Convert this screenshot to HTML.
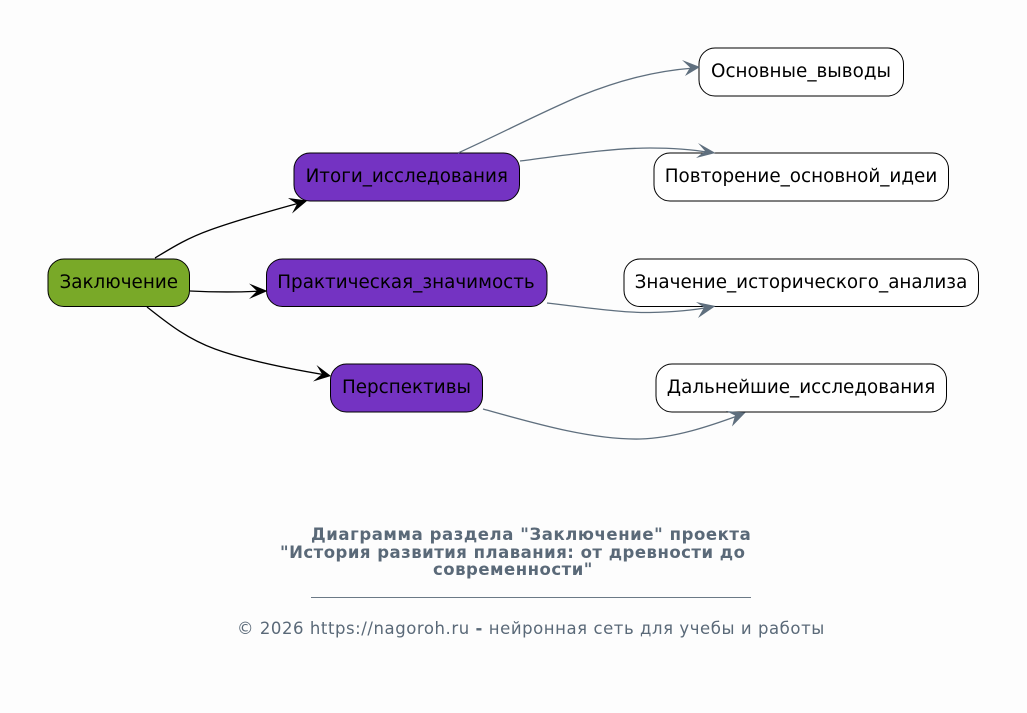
<!DOCTYPE html>
<html><head><meta charset="utf-8">
<style>
html,body{margin:0;padding:0;background:#fdfdfd;}
svg{display:block;}
.n{font-family:"DejaVu Sans",sans-serif;font-size:18.35px;fill:#000;text-anchor:middle;}
.t{font-family:"DejaVu Sans",sans-serif;font-size:16.5px;letter-spacing:0.58px;font-weight:bold;fill:#5a6978;}
.f{font-family:"DejaVu Sans",sans-serif;font-size:16.5px;letter-spacing:0.56px;fill:#5a6978;}
</style></head><body>
<svg width="1027" height="713" viewBox="0 0 1027 713" xmlns="http://www.w3.org/2000/svg">
<rect width="1027" height="713" fill="#fdfdfd"/>
<g stroke="#000" stroke-width="1">
<rect x="48" y="259" width="141.500" height="47.500" rx="16" ry="16" fill="#79a928"/>
<rect x="294" y="153" width="225.500" height="48" rx="16" ry="16" fill="#7433c2"/>
<rect x="266.500" y="259" width="280.500" height="47.500" rx="16" ry="16" fill="#7433c2"/>
<rect x="330.500" y="364" width="152" height="48" rx="16" ry="16" fill="#7433c2"/>
<rect x="699" y="48" width="204.500" height="48" rx="16" ry="16" fill="#fff"/>
<rect x="654" y="153" width="294.500" height="48" rx="16" ry="16" fill="#fff"/>
<rect x="624" y="259" width="354.500" height="47.500" rx="16" ry="16" fill="#fff"/>
<rect x="656" y="364" width="290.500" height="48" rx="16" ry="16" fill="#fff"/>
</g>
<g fill="none" stroke="#000" stroke-width="1.300">
<path d="M155 258C170 249 185 239 210 230C235 221 270 211 303 202"/>
<path d="M190 291C210 292 235 292.500 262 291"/>
<path d="M147 307C165 321 185 338 215 349C245 360 290 369 326 375"/>
</g>
<g fill="#000">
<polygon points="307.500,200.500 288,198 297,204 292,213.500"/>
<polygon points="267.500,291 249,283.500 257,291 249,299"/>
<polygon points="331,376 316.500,365 322,374 313,381.500"/>
</g>
<g fill="none" stroke="#5f6f7e" stroke-width="1.300">
<path d="M458 153C500 134 540 113 580 96C620 80 655 71 694 68"/>
<path d="M520 161C560 156 610 148 650 148C675 148 695 150 710 152.500"/>
<path d="M547 303C590 308 625 313 650 312.500C675 312 695 310 710 307"/>
<path d="M483 409C530 422 590 440 640 439C675 438 710 426 740 415"/>
</g>
<g fill="#5f6f7e">
<polygon points="700,67 682,60 690,67.500 685,76"/>
<polygon points="715.500,153 698,143 705,151 696,158"/>
<polygon points="715.500,306 696,302 704,307.500 698,318"/>
<polygon points="745.500,412.500 726,411 735,415.500 732,426.500"/>
</g>
<text class="n" x="118.750" y="288">Заключение</text>
<text class="n" x="406.750" y="182">Итоги_исследования</text>
<text class="n" x="406" y="288">Практическая_значимость</text>
<text class="n" x="406.500" y="393">Перспективы</text>
<text class="n" x="801" y="77">Основные_выводы</text>
<text class="n" x="801" y="182">Повторение_основной_идеи</text>
<text class="n" x="801" y="288">Значение_исторического_анализа</text>
<text class="n" x="801" y="393">Дальнейшие_исследования</text>
<text class="t" x="311" y="540">Диаграмма раздела "Заключение" проекта</text>
<text class="t" x="280" y="558" style="letter-spacing:0.49px">"История развития плавания: от древности до</text>
<text class="t" x="433" y="575" style="letter-spacing:0.5px">современности"</text>
<rect x="311" y="597" width="440" height="1" fill="#6b7986"/>
<text class="f" x="237" y="634">© 2026 https://nagoroh.ru <tspan font-weight="bold">-</tspan> нейронная сеть для учебы и работы</text>
</svg>
</body></html>
